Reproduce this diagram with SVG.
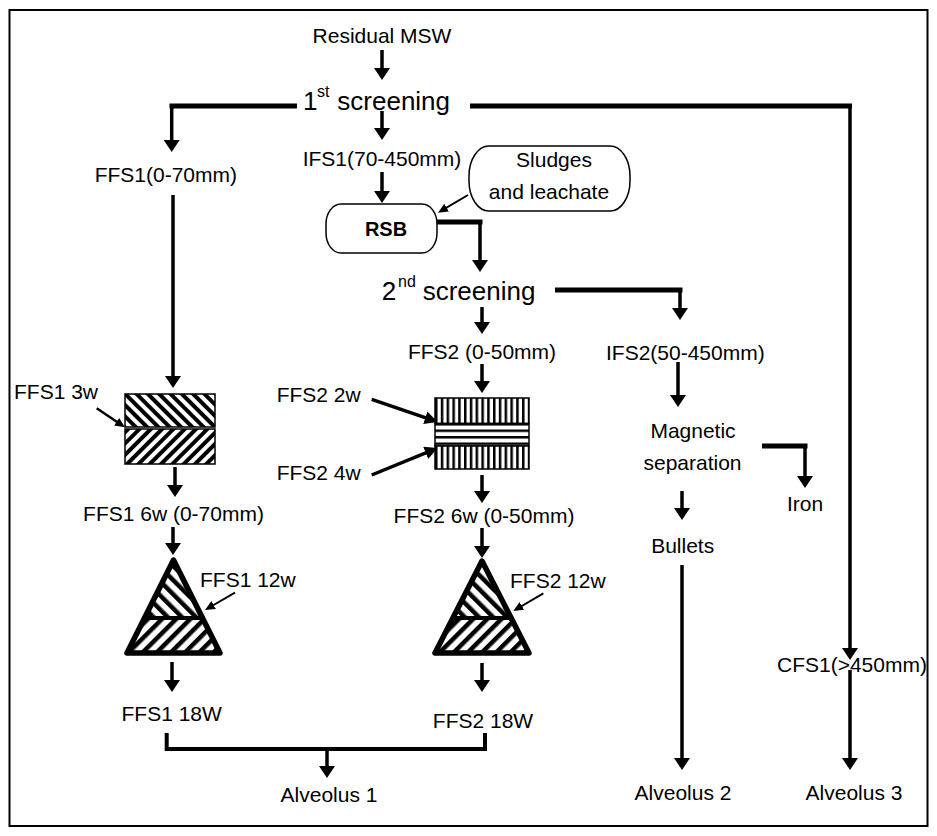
<svg xmlns="http://www.w3.org/2000/svg" width="937" height="836" viewBox="0 0 937 836">
<style>
.t{font-family:"Liberation Sans",Arial,Helvetica,sans-serif;font-size:21px;fill:#000}
.big{font-size:26px}
.sup{font-size:16px}
.b{font-weight:bold;font-size:20px}
.m{text-anchor:middle}
.e{text-anchor:end}
.c{stroke:#000;fill:none;stroke-width:3.5}
.k{stroke-width:5}
.thin{stroke-width:2}
.a{marker-end:url(#ah)}
.as{marker-end:url(#ahs)}
.am{marker-end:url(#ahm)}
.box{stroke:#000;stroke-width:1.5}
.tri{fill:none;stroke:#000;stroke-width:5.5;stroke-linejoin:round}
.rb{fill:#fff;stroke:#000;stroke-width:1.5}
</style>
<defs>
<marker id="ah" markerUnits="userSpaceOnUse" viewBox="0 0 12 16" markerWidth="12" markerHeight="16" refX="6" refY="8" orient="auto"><path d="M0,0 L12,8 L0,16 z" fill="#000"/></marker>
<marker id="ahs" markerUnits="userSpaceOnUse" viewBox="0 0 10 9" markerWidth="10" markerHeight="9" refX="5" refY="4.5" orient="auto"><path d="M0,0 L10,4.5 L0,9 z" fill="#000"/></marker>
<marker id="ahm" markerUnits="userSpaceOnUse" viewBox="0 0 13 13" markerWidth="13" markerHeight="13" refX="6" refY="6.5" orient="auto"><path d="M0,0 L13,6.5 L0,13 z" fill="#000"/></marker>
<pattern id="hb" patternUnits="userSpaceOnUse" width="8" height="8" patternTransform="rotate(-45)"><rect width="8" height="8" fill="#fff"/><rect width="4" height="8" fill="#000"/></pattern>
<pattern id="hf" patternUnits="userSpaceOnUse" width="8" height="8" patternTransform="rotate(45)"><rect width="8" height="8" fill="#fff"/><rect width="4" height="8" fill="#000"/></pattern>
<pattern id="tb" patternUnits="userSpaceOnUse" width="10" height="10" patternTransform="rotate(-45)"><rect width="10" height="10" fill="#fff"/><rect width="4.5" height="10" fill="#000"/></pattern>
<pattern id="tf" patternUnits="userSpaceOnUse" width="10" height="10" patternTransform="rotate(45)"><rect width="10" height="10" fill="#fff"/><rect width="4.5" height="10" fill="#000"/></pattern>
<pattern id="vs" patternUnits="userSpaceOnUse" x="435" y="0" width="5.8" height="10"><rect width="5.8" height="10" fill="#fff"/><rect width="2.5" height="10" fill="#000"/></pattern>
<pattern id="hs" patternUnits="userSpaceOnUse" x="0" y="423" width="10" height="6.5"><rect width="10" height="6.5" fill="#fff"/><rect width="10" height="2.5" fill="#000"/></pattern>
</defs>
<rect width="937" height="836" fill="#fff"/>
<g id="frame"><rect x="9.5" y="10" width="918" height="816" fill="none" stroke="#000" stroke-width="2"/></g>

<g id="connectors">
<path class="c a" d="M382,50 V74"/>
<path class="c k" d="M297,106 H169.5"/>
<path class="c a" d="M171.7,104 V146"/>
<path class="c a" d="M382,111 V134"/>
<path class="c k" d="M470,106 H852"/>
<path class="c a" d="M850,104 V654"/>
<path class="c a" d="M173,195 V382"/>
<path class="c a" d="M382,172 V197"/>
<path class="c thin as" d="M468,195 L442.3,210.2"/>
<path class="c k" d="M437,222 H482.5"/>
<path class="c a" d="M480,220 V266"/>
<path class="c a" d="M482,307 V328"/>
<path class="c k" d="M555,290 H682.5"/>
<path class="c a" d="M680,288 V314"/>
<path class="c a" d="M482,364 V387"/>
<path class="c am" d="M371.7,399.3 L431,419.7"/>
<path class="c am" d="M371.7,475 L431.2,450.6"/>
<path class="c a" d="M482,475 V497"/>
<path class="c as" style="stroke-width:2.5" d="M96.7,408.3 L120.8,424.5"/>
<path class="c a" d="M175,467 V491"/>
<path class="c a" d="M173,527 V549"/>
<path class="c a" d="M482,528 V552"/>
<path class="c thin as" d="M235,592.7 L209.3,607.5"/>
<path class="c thin as" d="M543.3,593.3 L517.6,608.5"/>
<path class="c a" d="M172,662 V686"/>
<path class="c a" d="M482,663 V686"/>
<path class="c" style="stroke-width:4" d="M166.7,733 V749 H485 V733"/>
<path class="c a" d="M327,749 V772"/>
<path class="c a" d="M678,362 V401"/>
<path class="c k" d="M762,446 H807.5"/>
<path class="c a" d="M805,444 V482"/>
<path class="c a" d="M682,491 V514"/>
<path class="c a" d="M682,565 V764"/>
<path class="c a" d="M850,670 V764"/>
</g>

<g id="residual"><text class="t m" x="382" y="43">Residual MSW</text></g>
<g id="screening1"><text class="t big" y="110"><tspan x="303">1</tspan><tspan class="sup" x="317" y="97">st</tspan><tspan x="337.3" y="110">screening</tspan></text></g>
<g id="ffs1"><text class="t e" x="237" y="182">FFS1(0-70mm)</text></g>
<g id="ifs1"><text class="t m" x="382" y="166">IFS1(70-450mm)</text></g>
<g id="sludges"><rect class="rb" x="469" y="146" width="161" height="65" rx="20" ry="30"/>
<text class="t m" x="554" y="167">Sludges</text><text class="t m" x="549" y="199">and leachate</text></g>
<g id="rsb"><rect class="rb" x="326" y="204" width="111" height="49" rx="15" ry="20"/>
<text class="t b m" x="386" y="236">RSB</text></g>
<g id="screening2"><text class="t big" y="300"><tspan x="381.7">2</tspan><tspan class="sup" x="398" y="287">nd</tspan><tspan x="422.7" y="300">screening</tspan></text></g>
<g id="ffs2"><text class="t m" x="482" y="359">FFS2 (0-50mm)</text></g>
<g id="ifs2"><text class="t" x="606" y="360">IFS2(50-450mm)</text></g>
<g id="magnetic"><text class="t m" x="693" y="438">Magnetic</text><text class="t m" x="692.5" y="470">separation</text></g>
<g id="iron"><text class="t m" x="805" y="511">Iron</text></g>
<g id="bullets"><text class="t m" x="682.7" y="553">Bullets</text></g>

<g id="ffs1-box">
<rect x="125" y="394" width="90" height="33" fill="url(#hb)" class="box"/>
<rect x="125" y="429" width="90" height="35" fill="url(#hf)" class="box"/>
<text class="t" x="14" y="399">FFS1 3w</text>
</g>
<g id="ffs2-box">
<rect x="435" y="398" width="94" height="25.5" fill="url(#vs)" class="box"/>
<rect x="435" y="423.5" width="94" height="22.5" fill="url(#hs)" class="box"/>
<rect x="435" y="446" width="94" height="23" fill="url(#vs)" class="box"/>
<text class="t" x="276.7" y="402">FFS2 2w</text>
<text class="t" x="276.7" y="480">FFS2 4w</text>
</g>
<g id="ffs1-6w"><text class="t m" x="173.5" y="521">FFS1 6w (0-70mm)</text></g>
<g id="ffs2-6w"><text class="t m" x="484" y="523">FFS2 6w (0-50mm)</text></g>

<g id="tri1">
<polygon points="173.5,560 144.5,618 202.5,618" fill="url(#tb)"/>
<polygon points="144.5,618 127,653 220,653 202.5,618" fill="url(#tf)"/>
<polygon class="tri" points="173.5,560 127,653 220,653"/>
<line x1="144.5" y1="618" x2="202.5" y2="618" stroke="#000" stroke-width="4"/>
<text class="t" x="200" y="587">FFS1 12w</text>
</g>
<g id="tri2">
<polygon points="482,561 452.9,618 511.1,618" fill="url(#tb)"/>
<polygon points="452.9,618 435,653 529,653 511.1,618" fill="url(#tf)"/>
<polygon class="tri" points="482,561 435,653 529,653"/>
<line x1="452.9" y1="618" x2="511.1" y2="618" stroke="#000" stroke-width="4"/>
<text class="t" x="510" y="588">FFS2 12w</text>
</g>

<g id="ffs1-18w"><text class="t m" x="171.7" y="721">FFS1 18W</text></g>
<g id="ffs2-18w"><text class="t m" x="483" y="728">FFS2 18W</text></g>
<g id="cfs1"><text class="t" x="777" y="672">CFS1(&gt;450mm)</text></g>
<g id="alv1"><text class="t m" x="329" y="802">Alveolus 1</text></g>
<g id="alv2"><text class="t m" x="683" y="800">Alveolus 2</text></g>
<g id="alv3"><text class="t m" x="854" y="800">Alveolus 3</text></g>
</svg>
